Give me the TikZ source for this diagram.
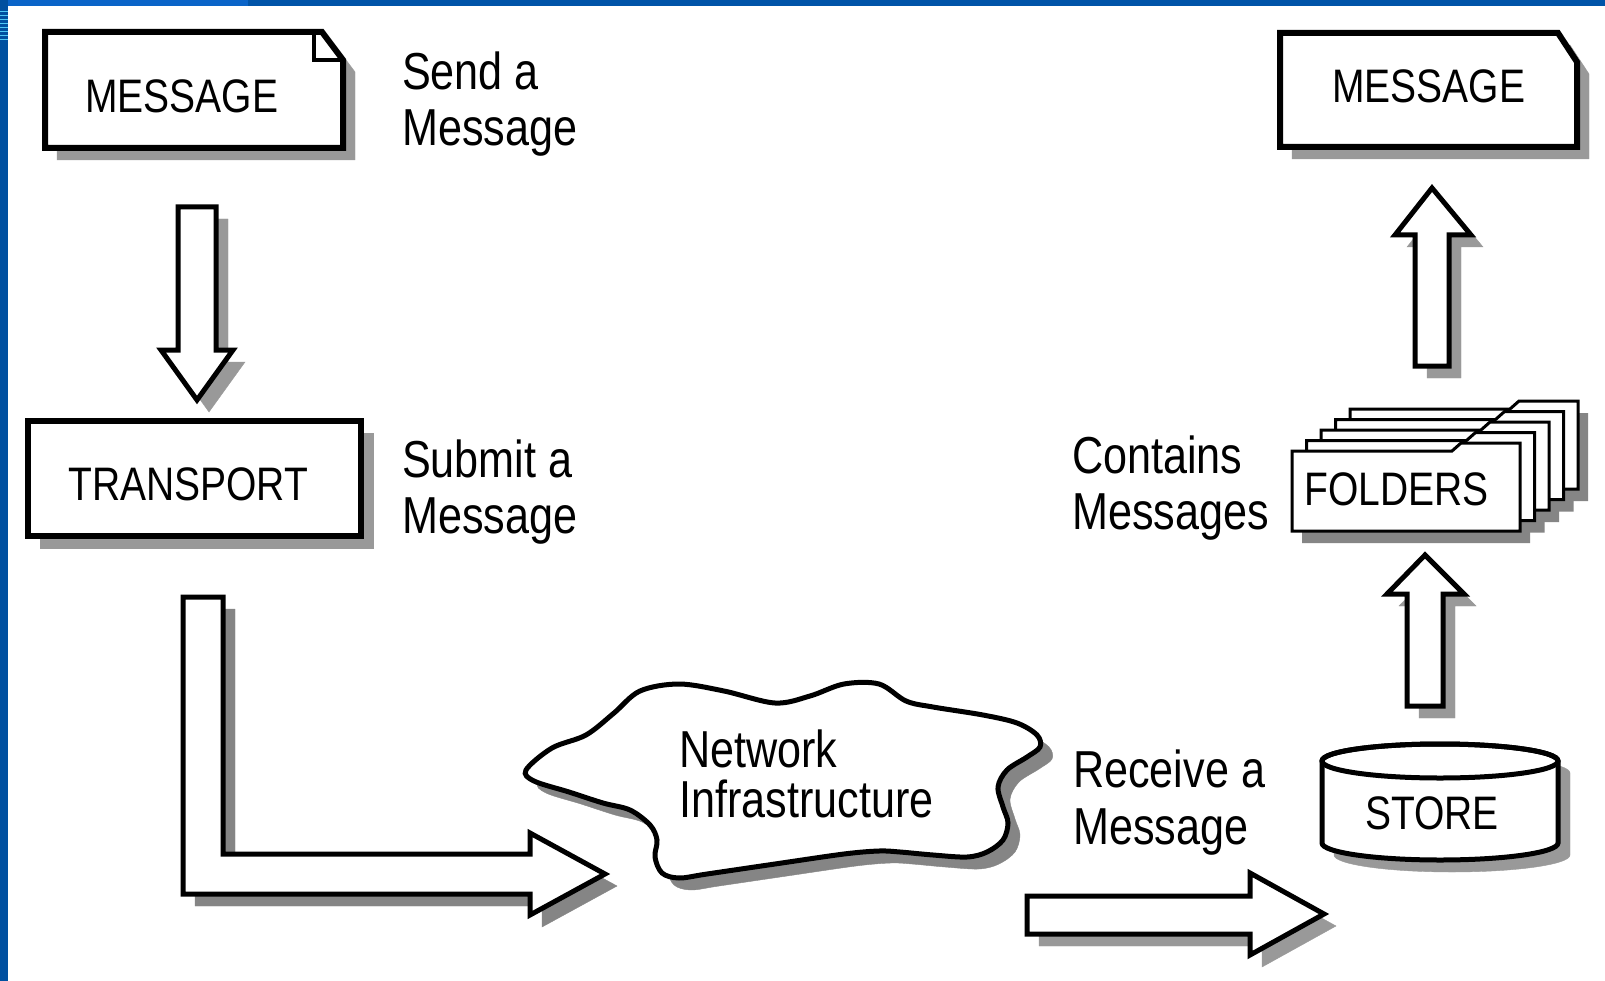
\documentclass[tikz,border=0pt]{standalone}
\usepackage{fontspec}
\newfontfamily\af[FakeStretch=0.83]{Liberation Sans}
\definecolor{shA}{HTML}{999999}
\definecolor{shB}{HTML}{858585}
\definecolor{blueA}{HTML}{0A64C8}
\definecolor{blueB}{HTML}{0054A8}
\definecolor{blueC}{HTML}{0050A0}
\definecolor{cyanS}{HTML}{4FC8F5}
\tikzset{
  boxline/.style={draw=black, fill=white, line width=6pt, line join=miter},
  arrline/.style={draw=black, fill=white, line width=5pt, line join=miter},
  cloudline/.style={draw=black, fill=white, line width=5pt},
  folderline/.style={draw=black, fill=white, line width=3pt, line join=miter},
  dshadow/.style={preaction={draw=#1, fill=#1, transform canvas={xshift=12pt, yshift=-12pt}}},
  boxtext/.style={font=\af\fontsize{47}{50}\selectfont, inner sep=0pt, anchor=base west, text=black},
  lbl/.style={font=\af\fontsize{52}{56}\selectfont, inner sep=0pt, anchor=base west, align=left, text=black},
}
\begin{document}
\begin{tikzpicture}[x=1pt, y=-1pt]
\useasboundingbox (0,0) rectangle (1605,981);
\fill[white] (0,0) rectangle (1605,981);
% blue frame
\fill[blueB] (0,0) rectangle (1605,6);
\fill[blueA] (0,0) rectangle (248,6);
\fill[blueC] (0,0) rectangle (8,981);
\foreach \yy in {11,15,19,23,27,31,35,39} {\fill[cyanS] (0,\yy) rectangle (8,\yy+1.5);}

% left MESSAGE document
\draw[boxline, dshadow=shA] (45,32) -- (322,32) -- (343,60) -- (343,148) -- (45,148) -- cycle;
\draw[line width=4pt, line join=miter] (314,34) -- (314,60) -- (340,60);
\node[boxtext] (msgL) at (85,113) {MESSAGE};
\node[lbl] (lblSend) at (402,146) {Send a\\Message};

% down arrow
\draw[arrline, dshadow=shA] (178,207) -- (216,207) -- (216,350) -- (233,350) -- (197,400) -- (161,350) -- (178,350) -- cycle;

% TRANSPORT
\draw[boxline, dshadow=shA] (28,421) rectangle (361,536);
\node[boxtext] (transport) at (68,500) {TRANSPORT};
\node[lbl] (lblSubmit) at (402,533) {Submit a\\Message};

% L arrow
\draw[arrline, dshadow=shB] (183,597) -- (223,597) -- (223,854) -- (530,854) -- (530,833) -- (605,874) -- (530,915) -- (530,894) -- (183,894) -- cycle;

% cloud
\draw[cloudline, dshadow=shB] plot[smooth cycle, tension=0.55] coordinates {
 (526,770) (552,748) (586,735) (614,713) (640,691) (679,684) (724,691) (775,703)
 (810,696) (844,684) (879,684) (906,701) (933,707) (983,715) (1017,723) (1037,735)
 (1040,747) (1027,757) (1007,770) (998,787) (1003,807) (1008,823) (1003,840)
 (987,852) (967,857) (933,855) (900,852) (879,851) (844,854) (775,864) (707,874)
 (679,878) (662,873) (655,857) (657,840) (650,825) (630,810) (603,803) (569,792) (534,781)};
\node[lbl, font=\af\fontsize{52}{50}\selectfont] (net) at (679,817) {Network\\Infrastructure};

% receive arrow
\node[lbl, font=\af\fontsize{52}{57}\selectfont] (lblReceive) at (1073,844) {Receive a\\Message};
\draw[arrline, dshadow=shA] (1027,896) -- (1250,896) -- (1250,873) -- (1324,914) -- (1250,955) -- (1250,934) -- (1027,934) -- cycle;

% STORE cylinder
\draw[arrline, dshadow=shA] (1322,761) -- (1322,843) arc[start angle=180, end angle=360, x radius=118pt, y radius=17pt] -- (1558,761) arc[start angle=0, end angle=180, x radius=118pt, y radius=17pt] -- cycle;
\draw[line width=5pt] (1440,761) ellipse [x radius=118pt, y radius=17pt];
\node[boxtext] (store) at (1365,829) {STORE};

% lower up arrow
\draw[arrline, dshadow=shA] (1407,706) -- (1407,594) -- (1387,594) -- (1425,555) -- (1464,594) -- (1443,594) -- (1443,706) -- cycle;

% FOLDERS stack
\foreach \i in {4,3,2,1,0} {
  \fill[shB, shift={({\i*14.5+10},{-\i*10.5+12})}] (1292,531) -- (1292,451) -- (1452,451) -- (1461,443) -- (1520,443) -- (1520,531) -- cycle;
}
\foreach \i in {4,3,2,1,0} {
  \draw[folderline, shift={({\i*14.5},{-\i*10.5})}] (1292,531) -- (1292,451) -- (1452,451) -- (1461,443) -- (1520,443) -- (1520,531) -- cycle;
}
\node[boxtext] (folders) at (1304,505) {FOLDERS};
\node[lbl] (lblContains) at (1072,529) {Contains\\Messages};

% upper up arrow
\draw[arrline, dshadow=shA] (1415,366) -- (1415,235) -- (1395,235) -- (1432,188) -- (1471,235) -- (1449,235) -- (1449,366) -- cycle;

% right MESSAGE
\draw[boxline, dshadow=shA] (1280,33) -- (1558,33) -- (1577,62) -- (1577,147) -- (1280,147) -- cycle;
\node[boxtext] (msgR) at (1332,103) {MESSAGE};
\end{tikzpicture}
\end{document}
